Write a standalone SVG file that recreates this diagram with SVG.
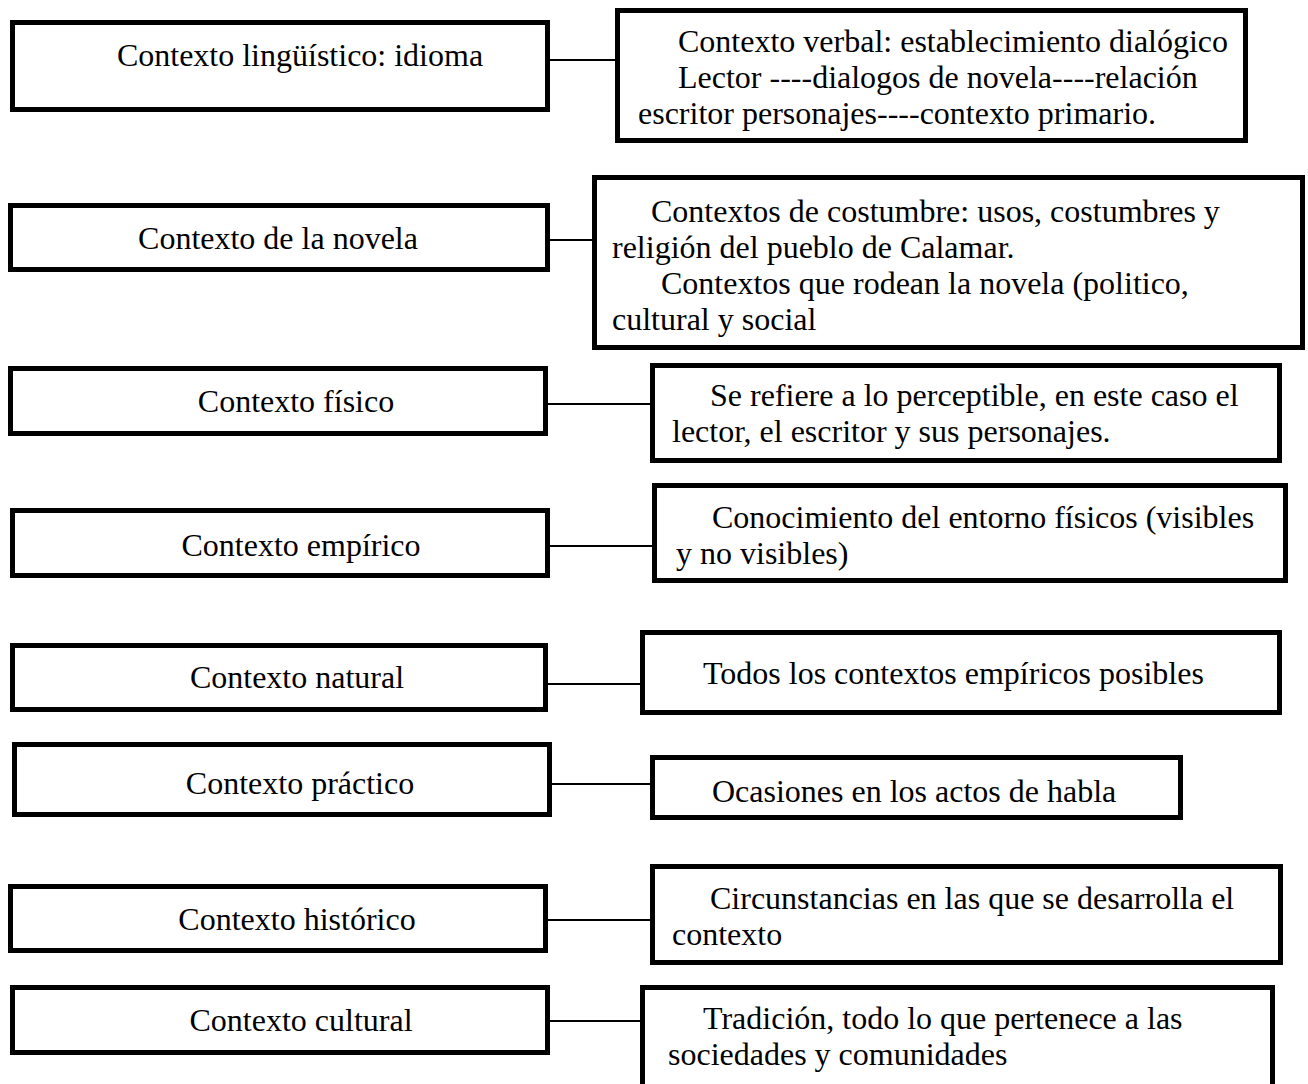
<svg xmlns="http://www.w3.org/2000/svg" width="1308" height="1084" viewBox="0 0 1308 1084">
<style>
.box{fill:#fff;stroke:#000;stroke-width:5}
.t{font-family:"Liberation Serif","Times New Roman",serif;font-size:32px;fill:#000}
.c{text-anchor:middle}
.ln{stroke:#000;stroke-width:2;fill:none}
</style>
<rect width="1308" height="1084" fill="#fff"/>
<g id="connectors">
<line class="ln" x1="550" y1="60" x2="615" y2="60"/>
<line class="ln" x1="548" y1="240" x2="594" y2="240"/>
<line class="ln" x1="546" y1="404" x2="650" y2="404"/>
<line class="ln" x1="548" y1="546" x2="652" y2="546"/>
<line class="ln" x1="546" y1="684" x2="642" y2="684"/>
<line class="ln" x1="550" y1="784" x2="652" y2="784"/>
<line class="ln" x1="546" y1="920" x2="652" y2="920"/>
<line class="ln" x1="548" y1="1021" x2="642" y2="1021"/>
</g>
<g id="n1"><rect class="box" x="12.5" y="22.5" width="535" height="87"/><text class="t c" x="300" y="66">Contexto lingüístico: idioma</text></g>
<g id="n1r"><rect class="box" x="617.5" y="10.5" width="628" height="130"/>
<text class="t" x="678" y="52">Contexto verbal: establecimiento dialógico</text>
<text class="t" x="678" y="88">Lector ----dialogos de novela----relación</text>
<text class="t" x="638" y="124">escritor personajes----contexto primario.</text></g>
<g id="n2"><rect class="box" x="10.5" y="205.5" width="537" height="64"/><text class="t c" x="278" y="249">Contexto de la novela</text></g>
<g id="n2r"><rect class="box" x="594.5" y="177.5" width="708" height="170"/>
<text class="t" x="651" y="222">Contextos de costumbre: usos, costumbres y</text>
<text class="t" x="612" y="258">religión del pueblo de Calamar.</text>
<text class="t" x="661" y="294">Contextos que rodean la novela (politico,</text>
<text class="t" x="612" y="330">cultural y social</text></g>
<g id="n3"><rect class="box" x="10.5" y="368.5" width="535" height="65"/><text class="t c" x="296" y="412">Contexto físico</text></g>
<g id="n3r"><rect class="box" x="652.5" y="365.5" width="627" height="95"/>
<text class="t" x="710" y="406">Se refiere a lo perceptible, en este caso el</text>
<text class="t" x="672" y="442">lector, el escritor y sus personajes.</text></g>
<g id="n4"><rect class="box" x="12.5" y="510.5" width="535" height="65"/><text class="t c" x="301" y="556">Contexto empírico</text></g>
<g id="n4r"><rect class="box" x="654.5" y="485.5" width="631" height="95"/>
<text class="t" x="712" y="528">Conocimiento del entorno físicos (visibles</text>
<text class="t" x="676" y="564">y no visibles)</text></g>
<g id="n5"><rect class="box" x="12.5" y="645.5" width="533" height="64"/><text class="t c" x="297" y="688">Contexto natural</text></g>
<g id="n5r"><rect class="box" x="642.5" y="632.5" width="637" height="80"/>
<text class="t" x="703" y="684">Todos los contextos empíricos posibles</text></g>
<g id="n6"><rect class="box" x="14.5" y="744.5" width="535" height="70"/><text class="t c" x="300" y="794">Contexto práctico</text></g>
<g id="n6r"><rect class="box" x="652.5" y="757.5" width="528" height="60"/>
<text class="t" x="712" y="802">Ocasiones en los actos de habla</text></g>
<g id="n7"><rect class="box" x="10.5" y="886.5" width="535" height="64"/><text class="t c" x="297" y="930">Contexto histórico</text></g>
<g id="n7r"><rect class="box" x="652.5" y="866.5" width="628" height="96"/>
<text class="t" x="710" y="909">Circunstancias en las que se desarrolla el</text>
<text class="t" x="672" y="945">contexto</text></g>
<g id="n8"><rect class="box" x="12.5" y="987.5" width="535" height="65"/><text class="t c" x="301" y="1031">Contexto cultural</text></g>
<g id="n8r"><rect class="box" x="642.5" y="987.5" width="630" height="110"/>
<text class="t" x="703" y="1029">Tradición, todo lo que pertenece a las</text>
<text class="t" x="668" y="1065">sociedades y comunidades</text></g>
</svg>
